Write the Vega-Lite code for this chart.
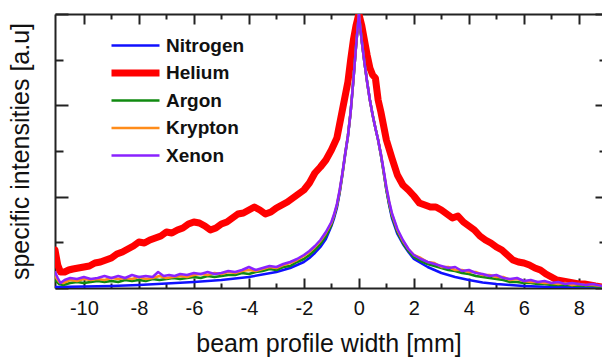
{
  "$schema": "https://vega.github.io/schema/vega-lite/v6.json",
  "width": 547,
  "height": 274,
  "autosize": {"type": "none"},
  "padding": {"left": 55, "top": 14, "right": 0, "bottom": 71},
  "background": "white",
  "config": {"view": {"stroke": null}, "font": "Liberation Sans"},
  "data": {"values": [
    {"gas":"Helium","x":-11.05,"y":38},{"gas":"Helium","x":-10.95,"y":23},{"gas":"Helium","x":-10.85,"y":16},{"gas":"Helium","x":-10.7,"y":16},{"gas":"Helium","x":-10.55,"y":18},{"gas":"Helium","x":-10.4,"y":19},{"gas":"Helium","x":-10.2,"y":20},{"gas":"Helium","x":-10.0,"y":21},{"gas":"Helium","x":-9.8,"y":22},{"gas":"Helium","x":-9.6,"y":25},{"gas":"Helium","x":-9.4,"y":26},{"gas":"Helium","x":-9.2,"y":28},{"gas":"Helium","x":-9.0,"y":30},{"gas":"Helium","x":-8.8,"y":34},{"gas":"Helium","x":-8.6,"y":36},{"gas":"Helium","x":-8.4,"y":39},{"gas":"Helium","x":-8.2,"y":42},{"gas":"Helium","x":-8.0,"y":46},{"gas":"Helium","x":-7.8,"y":45},{"gas":"Helium","x":-7.6,"y":48},{"gas":"Helium","x":-7.4,"y":50},{"gas":"Helium","x":-7.2,"y":52},{"gas":"Helium","x":-7.0,"y":56},{"gas":"Helium","x":-6.8,"y":55},{"gas":"Helium","x":-6.6,"y":58},{"gas":"Helium","x":-6.4,"y":60},{"gas":"Helium","x":-6.2,"y":64},{"gas":"Helium","x":-6.0,"y":66},{"gas":"Helium","x":-5.8,"y":65},{"gas":"Helium","x":-5.6,"y":62},{"gas":"Helium","x":-5.4,"y":58},{"gas":"Helium","x":-5.2,"y":60},{"gas":"Helium","x":-5.0,"y":64},{"gas":"Helium","x":-4.8,"y":66},{"gas":"Helium","x":-4.6,"y":70},{"gas":"Helium","x":-4.4,"y":74},{"gas":"Helium","x":-4.2,"y":75},{"gas":"Helium","x":-4.0,"y":78},{"gas":"Helium","x":-3.8,"y":81},{"gas":"Helium","x":-3.6,"y":78},{"gas":"Helium","x":-3.4,"y":74},{"gas":"Helium","x":-3.2,"y":76},{"gas":"Helium","x":-3.0,"y":80},{"gas":"Helium","x":-2.8,"y":83},{"gas":"Helium","x":-2.6,"y":86},{"gas":"Helium","x":-2.4,"y":90},{"gas":"Helium","x":-2.2,"y":94},{"gas":"Helium","x":-2.0,"y":98},{"gas":"Helium","x":-1.8,"y":105},{"gas":"Helium","x":-1.6,"y":115},{"gas":"Helium","x":-1.4,"y":121},{"gas":"Helium","x":-1.2,"y":128},{"gas":"Helium","x":-1.0,"y":138},{"gas":"Helium","x":-0.8,"y":150},{"gas":"Helium","x":-0.6,"y":178},{"gas":"Helium","x":-0.4,"y":206},{"gas":"Helium","x":-0.3,"y":228},{"gas":"Helium","x":-0.2,"y":248},{"gas":"Helium","x":-0.1,"y":263},{"gas":"Helium","x":0.0,"y":274},{"gas":"Helium","x":0.1,"y":263},{"gas":"Helium","x":0.2,"y":248},{"gas":"Helium","x":0.3,"y":233},{"gas":"Helium","x":0.4,"y":220},{"gas":"Helium","x":0.5,"y":213},{"gas":"Helium","x":0.6,"y":210},{"gas":"Helium","x":0.7,"y":188},{"gas":"Helium","x":0.8,"y":176},{"gas":"Helium","x":0.9,"y":162},{"gas":"Helium","x":1.0,"y":148},{"gas":"Helium","x":1.2,"y":130},{"gas":"Helium","x":1.4,"y":113},{"gas":"Helium","x":1.6,"y":103},{"gas":"Helium","x":1.8,"y":98},{"gas":"Helium","x":2.0,"y":92},{"gas":"Helium","x":2.2,"y":85},{"gas":"Helium","x":2.4,"y":83},{"gas":"Helium","x":2.6,"y":81},{"gas":"Helium","x":2.8,"y":81},{"gas":"Helium","x":3.0,"y":78},{"gas":"Helium","x":3.2,"y":74},{"gas":"Helium","x":3.4,"y":70},{"gas":"Helium","x":3.6,"y":72},{"gas":"Helium","x":3.8,"y":66},{"gas":"Helium","x":4.0,"y":62},{"gas":"Helium","x":4.2,"y":58},{"gas":"Helium","x":4.4,"y":52},{"gas":"Helium","x":4.6,"y":48},{"gas":"Helium","x":4.8,"y":45},{"gas":"Helium","x":5.0,"y":41},{"gas":"Helium","x":5.2,"y":38},{"gas":"Helium","x":5.4,"y":33},{"gas":"Helium","x":5.6,"y":28},{"gas":"Helium","x":5.8,"y":26},{"gas":"Helium","x":6.0,"y":25},{"gas":"Helium","x":6.2,"y":23},{"gas":"Helium","x":6.4,"y":20},{"gas":"Helium","x":6.6,"y":18},{"gas":"Helium","x":6.8,"y":14},{"gas":"Helium","x":7.0,"y":11},{"gas":"Helium","x":7.2,"y":8},{"gas":"Helium","x":7.4,"y":7},{"gas":"Helium","x":7.6,"y":6},{"gas":"Helium","x":7.8,"y":5},{"gas":"Helium","x":8.0,"y":4},{"gas":"Helium","x":8.2,"y":4},{"gas":"Helium","x":8.4,"y":3},{"gas":"Helium","x":8.6,"y":2},{"gas":"Helium","x":8.84,"y":1},

    {"gas":"Nitrogen","x":-11.05,"y":1},{"gas":"Nitrogen","x":-10,"y":1.5},{"gas":"Nitrogen","x":-9,"y":2},{"gas":"Nitrogen","x":-8,"y":3},{"gas":"Nitrogen","x":-7,"y":4.5},{"gas":"Nitrogen","x":-6,"y":6},{"gas":"Nitrogen","x":-5,"y":8},{"gas":"Nitrogen","x":-4,"y":11},{"gas":"Nitrogen","x":-3,"y":16},{"gas":"Nitrogen","x":-2.5,"y":20},{"gas":"Nitrogen","x":-2.0,"y":26},{"gas":"Nitrogen","x":-1.8,"y":30},{"gas":"Nitrogen","x":-1.6,"y":35},{"gas":"Nitrogen","x":-1.4,"y":41},{"gas":"Nitrogen","x":-1.2,"y":49},{"gas":"Nitrogen","x":-1.0,"y":62},{"gas":"Nitrogen","x":-0.9,"y":70},{"gas":"Nitrogen","x":-0.8,"y":80},{"gas":"Nitrogen","x":-0.7,"y":95},{"gas":"Nitrogen","x":-0.6,"y":113},{"gas":"Nitrogen","x":-0.5,"y":133},{"gas":"Nitrogen","x":-0.4,"y":151},{"gas":"Nitrogen","x":-0.3,"y":176},{"gas":"Nitrogen","x":-0.2,"y":208},{"gas":"Nitrogen","x":-0.1,"y":243},{"gas":"Nitrogen","x":0,"y":274},{"gas":"Nitrogen","x":0.1,"y":248},{"gas":"Nitrogen","x":0.2,"y":226},{"gas":"Nitrogen","x":0.3,"y":206},{"gas":"Nitrogen","x":0.4,"y":188},{"gas":"Nitrogen","x":0.5,"y":173},{"gas":"Nitrogen","x":0.6,"y":160},{"gas":"Nitrogen","x":0.7,"y":148},{"gas":"Nitrogen","x":0.8,"y":133},{"gas":"Nitrogen","x":0.9,"y":116},{"gas":"Nitrogen","x":1.0,"y":98},{"gas":"Nitrogen","x":1.1,"y":83},{"gas":"Nitrogen","x":1.2,"y":70},{"gas":"Nitrogen","x":1.4,"y":54},{"gas":"Nitrogen","x":1.6,"y":44},{"gas":"Nitrogen","x":1.8,"y":36},{"gas":"Nitrogen","x":2.0,"y":29},{"gas":"Nitrogen","x":2.5,"y":21},{"gas":"Nitrogen","x":3.0,"y":15},{"gas":"Nitrogen","x":3.5,"y":11},{"gas":"Nitrogen","x":4.0,"y":8},{"gas":"Nitrogen","x":4.5,"y":5.5},{"gas":"Nitrogen","x":5.0,"y":4},{"gas":"Nitrogen","x":5.5,"y":3},{"gas":"Nitrogen","x":6.0,"y":2},{"gas":"Nitrogen","x":7.0,"y":1},{"gas":"Nitrogen","x":8.0,"y":0.5},{"gas":"Nitrogen","x":8.84,"y":0.5},

    {"gas":"Argon","x":-11.05,"y":8},{"gas":"Argon","x":-10.9,"y":4},{"gas":"Argon","x":-10.75,"y":3},{"gas":"Argon","x":-10.5,"y":5},{"gas":"Argon","x":-10.25,"y":6},{"gas":"Argon","x":-10.0,"y":5},{"gas":"Argon","x":-9.75,"y":6},{"gas":"Argon","x":-9.5,"y":7},{"gas":"Argon","x":-9.25,"y":6},{"gas":"Argon","x":-9.0,"y":7},{"gas":"Argon","x":-8.75,"y":6},{"gas":"Argon","x":-8.5,"y":8},{"gas":"Argon","x":-8.25,"y":7},{"gas":"Argon","x":-8.0,"y":8},{"gas":"Argon","x":-7.75,"y":7},{"gas":"Argon","x":-7.5,"y":9},{"gas":"Argon","x":-7.25,"y":8},{"gas":"Argon","x":-7.0,"y":9},{"gas":"Argon","x":-6.75,"y":10},{"gas":"Argon","x":-6.5,"y":9},{"gas":"Argon","x":-6.25,"y":10},{"gas":"Argon","x":-6.0,"y":11},{"gas":"Argon","x":-5.75,"y":10},{"gas":"Argon","x":-5.5,"y":12},{"gas":"Argon","x":-5.25,"y":11},{"gas":"Argon","x":-5.0,"y":12},{"gas":"Argon","x":-4.75,"y":13},{"gas":"Argon","x":-4.5,"y":13},{"gas":"Argon","x":-4.25,"y":15},{"gas":"Argon","x":-4.0,"y":14},{"gas":"Argon","x":-3.75,"y":16},{"gas":"Argon","x":-3.5,"y":17},{"gas":"Argon","x":-3.25,"y":19},{"gas":"Argon","x":-3.0,"y":18},{"gas":"Argon","x":-2.75,"y":21},{"gas":"Argon","x":-2.5,"y":22},{"gas":"Argon","x":-2.25,"y":26},{"gas":"Argon","x":-2.0,"y":29},{"gas":"Argon","x":-1.8,"y":33},{"gas":"Argon","x":-1.6,"y":38},{"gas":"Argon","x":-1.4,"y":44},{"gas":"Argon","x":-1.2,"y":52},{"gas":"Argon","x":-1.0,"y":63},{"gas":"Argon","x":-0.9,"y":72},{"gas":"Argon","x":-0.8,"y":82},{"gas":"Argon","x":-0.7,"y":96},{"gas":"Argon","x":-0.6,"y":114},{"gas":"Argon","x":-0.5,"y":134},{"gas":"Argon","x":-0.4,"y":152},{"gas":"Argon","x":-0.3,"y":176},{"gas":"Argon","x":-0.2,"y":208},{"gas":"Argon","x":-0.1,"y":243},{"gas":"Argon","x":0,"y":274},{"gas":"Argon","x":0.1,"y":248},{"gas":"Argon","x":0.2,"y":226},{"gas":"Argon","x":0.3,"y":206},{"gas":"Argon","x":0.4,"y":188},{"gas":"Argon","x":0.5,"y":173},{"gas":"Argon","x":0.6,"y":160},{"gas":"Argon","x":0.7,"y":148},{"gas":"Argon","x":0.8,"y":133},{"gas":"Argon","x":0.9,"y":116},{"gas":"Argon","x":1.0,"y":98},{"gas":"Argon","x":1.1,"y":84},{"gas":"Argon","x":1.2,"y":72},{"gas":"Argon","x":1.4,"y":56},{"gas":"Argon","x":1.6,"y":45},{"gas":"Argon","x":1.8,"y":37},{"gas":"Argon","x":2.0,"y":31},{"gas":"Argon","x":2.25,"y":27},{"gas":"Argon","x":2.5,"y":24},{"gas":"Argon","x":2.75,"y":22},{"gas":"Argon","x":3.0,"y":20},{"gas":"Argon","x":3.25,"y":18},{"gas":"Argon","x":3.5,"y":17},{"gas":"Argon","x":3.75,"y":15},{"gas":"Argon","x":4.0,"y":14},{"gas":"Argon","x":4.25,"y":12},{"gas":"Argon","x":4.5,"y":11},{"gas":"Argon","x":4.75,"y":10},{"gas":"Argon","x":5.0,"y":9},{"gas":"Argon","x":5.25,"y":8},{"gas":"Argon","x":5.5,"y":6},{"gas":"Argon","x":5.75,"y":6},{"gas":"Argon","x":6.0,"y":5},{"gas":"Argon","x":6.25,"y":5},{"gas":"Argon","x":6.5,"y":4},{"gas":"Argon","x":6.75,"y":4},{"gas":"Argon","x":7.0,"y":3},{"gas":"Argon","x":7.5,"y":3},{"gas":"Argon","x":8.0,"y":2},{"gas":"Argon","x":8.5,"y":2},{"gas":"Argon","x":8.84,"y":1},

    {"gas":"Krypton","x":-11.05,"y":12},{"gas":"Krypton","x":-10.9,"y":6},{"gas":"Krypton","x":-10.75,"y":5},{"gas":"Krypton","x":-10.5,"y":8},{"gas":"Krypton","x":-10.25,"y":7},{"gas":"Krypton","x":-10.0,"y":9},{"gas":"Krypton","x":-9.75,"y":8},{"gas":"Krypton","x":-9.5,"y":9},{"gas":"Krypton","x":-9.25,"y":8},{"gas":"Krypton","x":-9.0,"y":10},{"gas":"Krypton","x":-8.75,"y":9},{"gas":"Krypton","x":-8.5,"y":10},{"gas":"Krypton","x":-8.25,"y":9},{"gas":"Krypton","x":-8.0,"y":11},{"gas":"Krypton","x":-7.75,"y":9},{"gas":"Krypton","x":-7.5,"y":10},{"gas":"Krypton","x":-7.25,"y":12},{"gas":"Krypton","x":-7.0,"y":10},{"gas":"Krypton","x":-6.75,"y":11},{"gas":"Krypton","x":-6.5,"y":12},{"gas":"Krypton","x":-6.25,"y":11},{"gas":"Krypton","x":-6.0,"y":13},{"gas":"Krypton","x":-5.75,"y":14},{"gas":"Krypton","x":-5.5,"y":13},{"gas":"Krypton","x":-5.25,"y":15},{"gas":"Krypton","x":-5.0,"y":14},{"gas":"Krypton","x":-4.75,"y":16},{"gas":"Krypton","x":-4.5,"y":15},{"gas":"Krypton","x":-4.25,"y":17},{"gas":"Krypton","x":-4.0,"y":18},{"gas":"Krypton","x":-3.75,"y":17},{"gas":"Krypton","x":-3.5,"y":19},{"gas":"Krypton","x":-3.25,"y":21},{"gas":"Krypton","x":-3.0,"y":20},{"gas":"Krypton","x":-2.75,"y":23},{"gas":"Krypton","x":-2.5,"y":25},{"gas":"Krypton","x":-2.25,"y":28},{"gas":"Krypton","x":-2.0,"y":32},{"gas":"Krypton","x":-1.8,"y":36},{"gas":"Krypton","x":-1.6,"y":41},{"gas":"Krypton","x":-1.4,"y":47},{"gas":"Krypton","x":-1.2,"y":55},{"gas":"Krypton","x":-1.0,"y":65},{"gas":"Krypton","x":-0.9,"y":73},{"gas":"Krypton","x":-0.8,"y":83},{"gas":"Krypton","x":-0.7,"y":97},{"gas":"Krypton","x":-0.6,"y":114},{"gas":"Krypton","x":-0.5,"y":134},{"gas":"Krypton","x":-0.4,"y":152},{"gas":"Krypton","x":-0.3,"y":176},{"gas":"Krypton","x":-0.2,"y":208},{"gas":"Krypton","x":-0.1,"y":243},{"gas":"Krypton","x":0,"y":274},{"gas":"Krypton","x":0.1,"y":248},{"gas":"Krypton","x":0.2,"y":226},{"gas":"Krypton","x":0.3,"y":206},{"gas":"Krypton","x":0.4,"y":188},{"gas":"Krypton","x":0.5,"y":173},{"gas":"Krypton","x":0.6,"y":160},{"gas":"Krypton","x":0.7,"y":148},{"gas":"Krypton","x":0.8,"y":134},{"gas":"Krypton","x":0.9,"y":117},{"gas":"Krypton","x":1.0,"y":100},{"gas":"Krypton","x":1.1,"y":86},{"gas":"Krypton","x":1.2,"y":74},{"gas":"Krypton","x":1.4,"y":58},{"gas":"Krypton","x":1.6,"y":47},{"gas":"Krypton","x":1.8,"y":39},{"gas":"Krypton","x":2.0,"y":33},{"gas":"Krypton","x":2.25,"y":30},{"gas":"Krypton","x":2.5,"y":26},{"gas":"Krypton","x":2.75,"y":25},{"gas":"Krypton","x":3.0,"y":21},{"gas":"Krypton","x":3.25,"y":21},{"gas":"Krypton","x":3.5,"y":18},{"gas":"Krypton","x":3.75,"y":18},{"gas":"Krypton","x":4.0,"y":16},{"gas":"Krypton","x":4.25,"y":16},{"gas":"Krypton","x":4.5,"y":13},{"gas":"Krypton","x":4.75,"y":13},{"gas":"Krypton","x":5.0,"y":11},{"gas":"Krypton","x":5.25,"y":11},{"gas":"Krypton","x":5.5,"y":8},{"gas":"Krypton","x":5.75,"y":9},{"gas":"Krypton","x":6.0,"y":7},{"gas":"Krypton","x":6.25,"y":6},{"gas":"Krypton","x":6.5,"y":6},{"gas":"Krypton","x":6.75,"y":5},{"gas":"Krypton","x":7.0,"y":5},{"gas":"Krypton","x":7.25,"y":4},{"gas":"Krypton","x":7.5,"y":5},{"gas":"Krypton","x":7.75,"y":3},{"gas":"Krypton","x":8.0,"y":4},{"gas":"Krypton","x":8.25,"y":3},{"gas":"Krypton","x":8.5,"y":3},{"gas":"Krypton","x":8.84,"y":2},

    {"gas":"Xenon","x":-11.05,"y":16},{"gas":"Xenon","x":-10.95,"y":10},{"gas":"Xenon","x":-10.85,"y":5},{"gas":"Xenon","x":-10.7,"y":8},{"gas":"Xenon","x":-10.5,"y":10},{"gas":"Xenon","x":-10.25,"y":9},{"gas":"Xenon","x":-10.0,"y":11},{"gas":"Xenon","x":-9.75,"y":9},{"gas":"Xenon","x":-9.5,"y":10},{"gas":"Xenon","x":-9.25,"y":12},{"gas":"Xenon","x":-9.0,"y":10},{"gas":"Xenon","x":-8.75,"y":12},{"gas":"Xenon","x":-8.5,"y":10},{"gas":"Xenon","x":-8.25,"y":13},{"gas":"Xenon","x":-8.0,"y":11},{"gas":"Xenon","x":-7.75,"y":12},{"gas":"Xenon","x":-7.5,"y":11},{"gas":"Xenon","x":-7.3,"y":16},{"gas":"Xenon","x":-7.1,"y":12},{"gas":"Xenon","x":-6.9,"y":13},{"gas":"Xenon","x":-6.7,"y":12},{"gas":"Xenon","x":-6.5,"y":14},{"gas":"Xenon","x":-6.25,"y":13},{"gas":"Xenon","x":-6.0,"y":15},{"gas":"Xenon","x":-5.75,"y":14},{"gas":"Xenon","x":-5.5,"y":16},{"gas":"Xenon","x":-5.25,"y":14},{"gas":"Xenon","x":-5.0,"y":15},{"gas":"Xenon","x":-4.75,"y":17},{"gas":"Xenon","x":-4.5,"y":16},{"gas":"Xenon","x":-4.25,"y":18},{"gas":"Xenon","x":-4.0,"y":21},{"gas":"Xenon","x":-3.75,"y":18},{"gas":"Xenon","x":-3.5,"y":20},{"gas":"Xenon","x":-3.25,"y":22},{"gas":"Xenon","x":-3.0,"y":21},{"gas":"Xenon","x":-2.75,"y":24},{"gas":"Xenon","x":-2.5,"y":26},{"gas":"Xenon","x":-2.25,"y":29},{"gas":"Xenon","x":-2.0,"y":33},{"gas":"Xenon","x":-1.8,"y":37},{"gas":"Xenon","x":-1.6,"y":42},{"gas":"Xenon","x":-1.4,"y":48},{"gas":"Xenon","x":-1.2,"y":56},{"gas":"Xenon","x":-1.0,"y":66},{"gas":"Xenon","x":-0.9,"y":74},{"gas":"Xenon","x":-0.8,"y":84},{"gas":"Xenon","x":-0.7,"y":98},{"gas":"Xenon","x":-0.6,"y":115},{"gas":"Xenon","x":-0.5,"y":134},{"gas":"Xenon","x":-0.4,"y":152},{"gas":"Xenon","x":-0.3,"y":176},{"gas":"Xenon","x":-0.2,"y":208},{"gas":"Xenon","x":-0.1,"y":243},{"gas":"Xenon","x":0,"y":274},{"gas":"Xenon","x":0.1,"y":248},{"gas":"Xenon","x":0.2,"y":226},{"gas":"Xenon","x":0.3,"y":206},{"gas":"Xenon","x":0.4,"y":188},{"gas":"Xenon","x":0.5,"y":173},{"gas":"Xenon","x":0.6,"y":160},{"gas":"Xenon","x":0.7,"y":148},{"gas":"Xenon","x":0.8,"y":134},{"gas":"Xenon","x":0.9,"y":118},{"gas":"Xenon","x":1.0,"y":101},{"gas":"Xenon","x":1.1,"y":87},{"gas":"Xenon","x":1.2,"y":75},{"gas":"Xenon","x":1.4,"y":59},{"gas":"Xenon","x":1.6,"y":48},{"gas":"Xenon","x":1.8,"y":39},{"gas":"Xenon","x":2.0,"y":33},{"gas":"Xenon","x":2.25,"y":29},{"gas":"Xenon","x":2.5,"y":26},{"gas":"Xenon","x":2.75,"y":24},{"gas":"Xenon","x":3.0,"y":22},{"gas":"Xenon","x":3.25,"y":20},{"gas":"Xenon","x":3.5,"y":21},{"gas":"Xenon","x":3.75,"y":17},{"gas":"Xenon","x":4.0,"y":18},{"gas":"Xenon","x":4.25,"y":15},{"gas":"Xenon","x":4.5,"y":14},{"gas":"Xenon","x":4.75,"y":12},{"gas":"Xenon","x":5.0,"y":13},{"gas":"Xenon","x":5.25,"y":10},{"gas":"Xenon","x":5.5,"y":9},{"gas":"Xenon","x":5.75,"y":10},{"gas":"Xenon","x":6.0,"y":7},{"gas":"Xenon","x":6.25,"y":8},{"gas":"Xenon","x":6.5,"y":6},{"gas":"Xenon","x":6.75,"y":7},{"gas":"Xenon","x":7.0,"y":5},{"gas":"Xenon","x":7.25,"y":6},{"gas":"Xenon","x":7.5,"y":4},{"gas":"Xenon","x":7.75,"y":5},{"gas":"Xenon","x":8.0,"y":4},{"gas":"Xenon","x":8.25,"y":3},{"gas":"Xenon","x":8.5,"y":4},{"gas":"Xenon","x":8.84,"y":2}
  ]},
  "resolve": {"axis": {"x": "independent", "y": "independent"}},
  "layer": [
    {
      "mark": {"type": "line", "opacity": 0},
      "encoding": {
        "x": {"field": "x", "type": "quantitative",
          "scale": {"domain": [-11.05, 8.84], "nice": false, "zero": false},
          "axis": {"orient": "top", "values": [-10,-9,-8,-7,-6,-5,-4,-3,-2,-1,0,1,2,3,4,5,6,7,8], "labels": false, "title": null, "grid": false,
            "domainColor": "#222", "domainWidth": 2, "tickColor": "#222", "tickWidth": 2,
            "tickSize": {"condition": {"test": "datum.value % 2 === 0", "value": -10}, "value": -5}}},
        "y": {"field": "y", "type": "quantitative",
          "scale": {"domain": [0, 274], "nice": false, "zero": true},
          "axis": {"orient": "right", "values": [0, 45.67, 91.33, 137, 182.67, 228.33, 274], "labels": false, "title": null, "grid": false, "domain": false,
            "tickColor": "#222", "tickWidth": 2,
            "tickSize": {"condition": {"test": "round(datum.value / 45.67) % 2 === 0", "value": -7}, "value": -3}}}
      }
    },
    {
      "mark": {"type": "line", "strokeCap": "round", "strokeJoin": "round", "clip": true},
      "encoding": {
        "x": {"field": "x", "type": "quantitative",
          "axis": {"orient": "bottom", "values": [-10,-9,-8,-7,-6,-5,-4,-3,-2,-1,0,1,2,3,4,5,6,7,8], "grid": false,
            "labelExpr": "datum.value % 2 === 0 ? '' + datum.value : ''",
            "labelFontSize": 20, "labelColor": "#111", "labelPadding": 20, "labelFont": "Liberation Sans",
            "domainColor": "#222", "domainWidth": 2, "tickColor": "#222", "tickWidth": 2,
            "tickSize": {"condition": {"test": "datum.value % 2 === 0", "value": -10}, "value": -5},
            "title": "beam profile width [mm]", "titleFontSize": 25, "titleFontWeight": "normal", "titleColor": "#111", "titlePadding": 13, "titleFont": "Liberation Sans"}},
        "y": {"field": "y", "type": "quantitative",
          "axis": {"orient": "left", "values": [0, 45.67, 91.33, 137, 182.67, 228.33, 274], "labels": false, "grid": false,
            "domainColor": "#222", "domainWidth": 2, "tickColor": "#222", "tickWidth": 2,
            "tickSize": {"condition": {"test": "round(datum.value / 45.67) % 2 === 0", "value": -13}, "value": -8},
            "title": "specific intensities [a.u]", "titleFontSize": 25, "titleFontWeight": "normal", "titleColor": "#111", "titlePadding": 21, "titleFont": "Liberation Sans"}},
        "color": {"field": "gas", "type": "nominal",
          "scale": {"domain": ["Nitrogen", "Helium", "Argon", "Krypton", "Xenon"], "range": ["#1010ff", "#ff0000", "#108a10", "#ff8c1a", "#8a22ff"]},
          "legend": {"orient": "none", "legendX": 71, "legendY": 22, "title": null, "padding": 0, "gridAlign": "all",
            "symbolType": "M-8,0H8", "symbolSize": 36, "labelOffset": 21, "rowPadding": -1.5,
            "labelFontSize": 19, "labelFontWeight": "bold", "labelColor": "#111", "labelFont": "Liberation Sans"}},
        "strokeWidth": {"field": "gas", "type": "nominal",
          "scale": {"type": "ordinal", "domain": ["Nitrogen", "Helium", "Argon", "Krypton", "Xenon"], "range": [2.5, 7, 2.5, 2.5, 2.5]},
          "legend": {"orient": "none", "legendX": 71, "legendY": 22, "title": null, "padding": 0, "gridAlign": "all",
            "symbolType": "M-8,0H8", "symbolSize": 36, "labelOffset": 21, "rowPadding": -1.5,
            "labelFontSize": 19, "labelFontWeight": "bold", "labelColor": "#111", "labelFont": "Liberation Sans"}}
      }
    }
  ]
}
